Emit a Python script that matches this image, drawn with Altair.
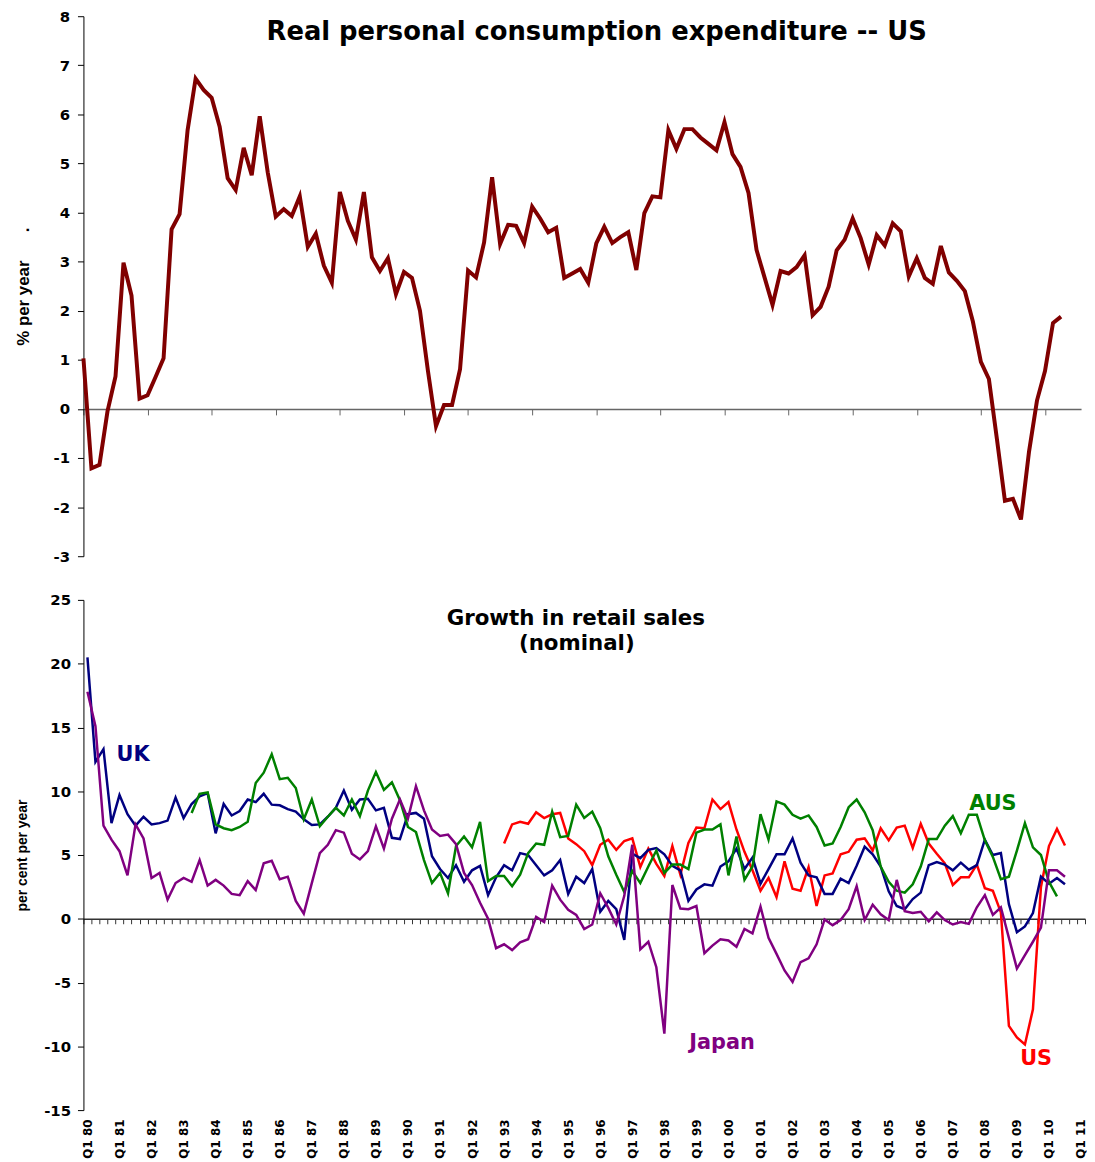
import altair as alt
import pandas as pd

# ---------------- data ----------------
# US real personal consumption expenditure, % per year, Q1 80 .. Q3 10
pce_us = [1.03, -1.21, -1.14, -0.05, 0.66, 2.98, 2.31, 0.21, 0.28, 0.65,
          1.03, 3.66, 3.97, 5.68, 6.73, 6.50, 6.34, 5.75, 4.70, 4.46,
          5.32, 4.76, 5.96, 4.82, 3.92, 4.07, 3.93, 4.33, 3.30, 3.57,
          2.92, 2.57, 4.42, 3.83, 3.45, 4.42, 3.09, 2.81, 3.07, 2.34,
          2.79, 2.67, 2.00, 0.77, -0.35, 0.08, 0.08, 0.81, 2.82, 2.68,
          3.39, 4.72, 3.36, 3.75, 3.73, 3.38, 4.12, 3.88, 3.60, 3.69,
          2.67, 2.76, 2.85, 2.57, 3.37, 3.71, 3.38, 3.50, 3.60, 2.83,
          3.99, 4.33, 4.31, 5.68, 5.30, 5.70, 5.70, 5.53, 5.40, 5.27,
          5.84, 5.19, 4.93, 4.40, 3.24, 2.68, 2.12, 2.81, 2.76, 2.89,
          3.13, 1.91, 2.08, 2.49, 3.23, 3.45, 3.88, 3.48, 2.94, 3.54,
          3.33, 3.78, 3.62, 2.70, 3.07, 2.67, 2.55, 3.32, 2.78, 2.61,
          2.40, 1.78, 0.96, 0.61, -0.61, -1.87, -1.83, -2.25, -0.88, 0.17,
          0.77, 1.75, 1.88]

# Retail sales growth (nominal), per cent per year
uk_retail = [20.5, 12.3, 13.3, 7.5, 9.7, 8.2, 7.3, 8.0, 7.4, 7.5,
             7.7, 9.5, 7.9, 9.0, 9.6, 9.85, 6.7, 9.0, 8.1, 8.45,
             9.35, 9.15, 9.8, 8.95, 8.9, 8.6, 8.4, 7.8, 7.35, 7.4,
             8.0, 8.7, 10.05, 8.55, 9.35, 9.4, 8.5, 8.7, 6.35, 6.25,
             8.2, 8.3, 7.85, 4.9, 3.9, 3.2, 4.2, 2.9, 3.8, 4.15,
             1.85, 3.25, 4.2, 3.8, 5.15, 5.0, 4.2, 3.4, 3.8, 4.6,
             1.95, 3.3, 2.8, 3.9, 0.55, 1.4, 0.75, -1.65, 5.1, 4.75,
             5.4, 5.55, 5.05, 4.15, 3.8, 1.4, 2.3, 2.7, 2.6, 4.1,
             4.5, 5.5, 3.9, 4.8, 2.75, 3.9, 5.05, 5.05, 6.3, 4.4,
             3.4, 3.25, 1.95, 1.95, 3.15, 2.8, 4.15, 5.65, 5.05, 4.1,
             2.15, 1.0, 0.75, 1.55, 2.05, 4.2, 4.45, 4.25, 3.8, 4.4,
             3.85, 4.2, 6.2, 5.0, 5.15, 1.15, -1.05, -0.6, 0.45, 3.3,
             2.75, 3.2, 2.7]
uk_start = 0

japan_retail = [17.8, 15.1, 7.3, 6.2, 5.3, 3.4, 7.4, 6.3, 3.2, 3.6,
                1.5, 2.8, 3.2, 2.9, 4.6, 2.6, 3.05, 2.6, 1.95, 1.85,
                2.95, 2.25, 4.35, 4.55, 3.1, 3.3, 1.4, 0.4, 2.8, 5.15,
                5.8, 6.95, 6.75, 5.1, 4.65, 5.3, 7.25, 5.5, 7.85, 9.35,
                7.85, 10.4, 8.5, 7.0, 6.5, 6.6, 5.85, 3.6, 2.65, 1.25,
                0.0, -2.3, -2.0, -2.45, -1.85, -1.6, 0.15, -0.25, 2.6, 1.5,
                0.7, 0.3, -0.8, -0.45, 2.0, 0.85, -0.45, 1.8, 5.8, -2.4,
                -1.8, -3.8, -9.0, 2.65, 0.8, 0.75, 1.0, -2.7, -2.1, -1.6,
                -1.7, -2.2, -0.8, -1.15, 0.95, -1.5, -2.75, -4.05, -4.95, -3.4,
                -3.1, -2.0, -0.05, -0.5, -0.1, 0.75, 2.55, -0.1, 1.1, 0.35,
                -0.1, 3.05, 0.6, 0.45, 0.55, -0.2, 0.5, -0.1, -0.45, -0.25,
                -0.4, 0.9, 1.85, 0.3, 0.9, -1.5, -3.9, -2.85, -1.8, -0.7,
                3.8, 3.8, 3.3]
japan_start = 0

aus_retail = [8.3, 9.8, 9.9, 7.4, 7.1, 6.95, 7.2, 7.6, 10.65, 11.45,
              12.9, 10.95, 11.05, 10.25, 7.8, 9.35, 7.25, 8.0, 8.7, 8.1,
              9.35, 8.05, 10.05, 11.5, 10.1, 10.7, 9.3, 7.2, 6.8, 4.6,
              2.8, 3.6, 2.0, 5.7, 6.45, 5.6, 7.6, 2.95, 3.35, 3.35,
              2.55, 3.45, 5.15, 5.9, 5.8, 8.4, 6.4, 6.5, 8.95, 7.9,
              8.4, 7.1, 4.9, 3.45, 2.1, 3.75, 2.8, 4.1, 5.35, 3.6,
              4.25, 4.25, 3.9, 6.75, 7.0, 7.0, 7.4, 3.4, 6.45, 3.05,
              4.1, 8.2, 6.2, 9.2, 8.95, 8.15, 7.85, 8.1, 7.2, 5.75,
              5.9, 7.2, 8.75, 9.35, 8.35, 6.95, 4.1, 2.9, 2.2, 2.05,
              2.7, 4.1, 6.25, 6.25, 7.3, 8.05, 6.7, 8.15, 8.15, 6.15,
              4.85, 3.1, 3.3, 5.35, 7.5, 5.6, 5.0, 2.9, 1.75]
aus_start = 13

us_retail = [5.9, 7.4, 7.6, 7.45, 8.35, 7.9, 8.2, 8.3, 6.3, 5.85,
             5.3, 4.2, 5.8, 6.2, 5.4, 6.1, 6.3, 4.05, 5.5, 4.3,
             3.35, 5.7, 3.45, 5.95, 7.15, 7.1, 9.35, 8.6, 9.15, 7.0,
             5.25, 3.8, 2.2, 3.2, 1.7, 4.5, 2.35, 2.2, 4.05, 1.0,
             3.4, 3.55, 5.05, 5.25, 6.2, 6.3, 5.35, 7.1, 6.15, 7.15,
             7.3, 5.55, 7.45, 5.9, 5.1, 4.35, 2.65, 3.25, 3.25, 4.25,
             2.4, 2.2, 0.5, -8.4, -9.3, -9.85, -7.1, 2.5, 5.7, 7.05,
             5.75]
us_start = 52

x_labels = ["Q1 80", "Q1 81", "Q1 82", "Q1 83", "Q1 84", "Q1 85", "Q1 86",
            "Q1 87", "Q1 88", "Q1 89", "Q1 90", "Q1 91", "Q1 92", "Q1 93",
            "Q1 94", "Q1 95", "Q1 96", "Q1 97", "Q1 98", "Q1 99", "Q1 00",
            "Q1 01", "Q1 02", "Q1 03", "Q1 04", "Q1 05", "Q1 06", "Q1 07",
            "Q1 08", "Q1 09", "Q1 10", "Q1 11"]

series_names = ["UK", "AUS", "Japan", "US"]
series_colors = ["#000080", "#008000", "#800080", "#FF0000"]
label_q = [5.7, 113.0, 79.2, 118.4]
label_v = [12.4, 8.5, -10.2, -11.5]

top_title = "Real personal consumption expenditure -- US"
bottom_title = ["Growth in retail sales", "(nominal)"]

# ---------------- tables ----------------
def frame(vals, start):
    return pd.DataFrame({"q": list(range(start, start + len(vals))), "v": vals})

top_df = frame(pce_us, 0)
uk_df = frame(uk_retail, uk_start)
jp_df = frame(japan_retail, japan_start)
aus_df = frame(aus_retail, aus_start)
us_df = frame(us_retail, us_start)
lab_df = pd.DataFrame({"q": label_q, "v": label_v, "label": series_names,
                       "color": series_colors})

# ---------------- layout ----------------
TOP_W, TOP_H = 1005, 544
BOT_W, BOT_H = 1009, 514

y_common = dict(labelFont="DejaVu Sans", labelFontWeight="bold", labelFontSize=15,
                labelColor="black", tickColor="black", tickSize=6,
                domainColor="black", domainWidth=1, grid=False,
                labelExpr="'' + datum.value",
                minExtent=40, maxExtent=40, titleFont="Liberation Sans",
                titleFontWeight="bold", titleColor="black")

# ---- top panel ----
top_x = alt.X("q:Q", scale=alt.Scale(domain=[0, 124.5], nice=False, zero=False),
              axis=alt.Axis(orient="bottom", offset=-(TOP_H * 3 / 11),
                            values=list(range(0, 121, 8)), labels=False, title=None,
                            domainColor="#666666", domainWidth=1.5,
                            tickColor="#666666", tickSize=6, grid=False))
top_y = alt.Y("v:Q", scale=alt.Scale(domain=[-3, 8], nice=False),
              axis=alt.Axis(values=list(range(-3, 9)),
                            title="% per year\u00a0\u00a0\u00a0\u00a0\u00a0\u00a0.",
                            titleFontSize=17, titlePadding=11, labelPadding=8,
                            **y_common))

top_line = alt.Chart(top_df).mark_line(color="#800000", strokeWidth=4).encode(
    x=top_x, y=top_y)
top_text = alt.Chart(pd.DataFrame({"t": [top_title]})).mark_text(
    font="DejaVu Sans", fontWeight="bold", fontSize=26, align="center",
    baseline="alphabetic", color="black").encode(
    text="t:N", x=alt.value(517), y=alt.value(24))
top = alt.layer(top_line, top_text).properties(width=TOP_W, height=TOP_H)

# ---- bottom panel ----
xs_b = alt.Scale(domain=[-0.5, 124.5], nice=False, zero=False)
label_expr = "[" + ",".join("'" + s + "'" for s in x_labels) + "][round(datum.value / 4)]"
label_axis = alt.Axis(orient="bottom", values=list(range(0, 125, 4)), labelExpr=label_expr,
                      labelAngle=270, domain=False, ticks=False, tickSize=0,
                      labelPadding=9, labelFont="DejaVu Sans", labelFontWeight="bold",
                      labelFontSize=12, labelColor="black", labelOverlap=False,
                      title=None, grid=False)
zero_axis = alt.Axis(orient="bottom", offset=-(BOT_H * 15 / 40),
                     values=[k - 0.5 for k in range(126)], labels=False, title=None,
                     domainColor="#333333", domainWidth=1.5, tickColor="#333333",
                     tickSize=5, grid=False)
bot_y = alt.Y("v:Q", scale=alt.Scale(domain=[-15, 25], nice=False),
              axis=alt.Axis(values=list(range(-15, 26, 5)), title="per cent per year",
                            titleFontSize=14, titlePadding=14, labelPadding=7,
                            **y_common))

def series_line(df, color, axis):
    return alt.Chart(df).mark_line(color=color, strokeWidth=2.5).encode(
        x=alt.X("q:Q", scale=xs_b, axis=axis), y=bot_y)

uk_line = series_line(uk_df, series_colors[0], label_axis)
us_line = series_line(us_df, series_colors[3], None)
aus_line = series_line(aus_df, series_colors[1], None)
jp_line = series_line(jp_df, series_colors[2], None)

labels = alt.Chart(lab_df).mark_text(font="DejaVu Sans", fontWeight="bold", fontSize=21,
                                     align="center", baseline="alphabetic").encode(
    x=alt.X("q:Q", scale=xs_b, axis=zero_axis), y=bot_y,
    text="label:N", color=alt.Color("color:N", scale=None))

bt1 = alt.Chart(pd.DataFrame({"t": [bottom_title[0]]})).mark_text(
    font="DejaVu Sans", fontWeight="bold", fontSize=21.5, align="center",
    baseline="alphabetic", color="black").encode(text="t:N", x=alt.value(496), y=alt.value(25))
bt2 = alt.Chart(pd.DataFrame({"t": [bottom_title[1]]})).mark_text(
    font="DejaVu Sans", fontWeight="bold", fontSize=21.5, align="center",
    baseline="alphabetic", color="black").encode(text="t:N", x=alt.value(497), y=alt.value(50))

bottom = alt.layer(us_line, uk_line, aus_line, jp_line, labels, bt1, bt2).resolve_axis(
    x="independent").properties(width=BOT_W, height=BOT_H)

chart = alt.vconcat(top, bottom, spacing=29).properties(
    padding={"left": 7, "top": -3, "right": 0, "bottom": 0},
    background="white").configure_view(strokeWidth=0)

chart.save("out.html", embed_options={"renderer": "svg", "actions": False})
